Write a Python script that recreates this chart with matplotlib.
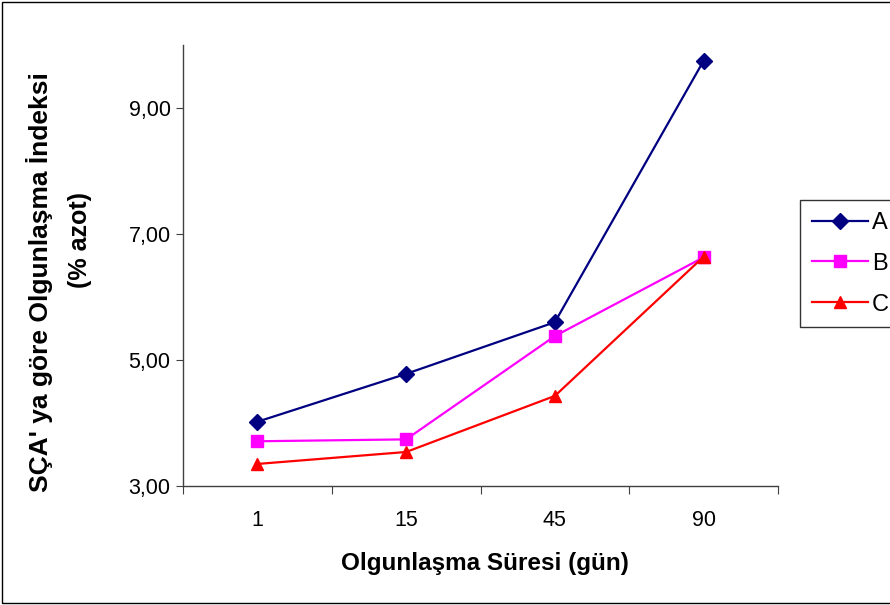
import matplotlib.pyplot as plt
from matplotlib.patches import Rectangle
from matplotlib.ticker import FixedLocator, FuncFormatter

plt.rcParams["font.family"] = ["Liberation Sans", "DejaVu Sans"]

days = ["1", "15", "45", "90"]
series_a = [4.02, 4.78, 5.60, 9.75]
series_b = [3.71, 3.74, 5.38, 6.63]
series_c = [3.35, 3.54, 4.43, 6.64]

W, H = 890, 605
fig = plt.figure(figsize=(W / 100, H / 100), dpi=100)
ax = fig.add_axes([183 / W, 1 - 486 / H, (778 - 183) / W, (486 - 45) / H])

x = list(range(len(days)))
ax.plot(x, series_a, color="#000080", marker="D", markersize=8, lw=1.6, label="A")
ax.plot(x, series_b, color="#ff00ff", marker="s", markersize=8, lw=1.6, label="B")
ax.plot(x, series_c, color="#ff0000", marker="^", markersize=9, lw=1.6, label="C")

ax.set_xlim(-0.5, len(days) - 0.5)
ax.set_ylim(3, 10)
ax.set_yticks([3, 5, 7, 9])
ax.yaxis.set_major_formatter(FuncFormatter(lambda v, p: f"{v:.2f}".replace(".", ",")))

# category boundaries get the tick marks, labels sit between them
ax.xaxis.set_major_locator(FixedLocator([i - 0.5 for i in range(len(days) + 1)]))
ax.xaxis.set_major_formatter(FuncFormatter(lambda v, p: ""))
ax.xaxis.set_minor_locator(FixedLocator(x))
ax.set_xticklabels(days, minor=True)
ax.tick_params(axis="x", which="major", length=6, direction="out", color="#404040")
ax.tick_params(axis="x", which="minor", length=0, pad=17, labelsize=15.5)
ax.tick_params(axis="y", length=5, direction="out", labelsize=15.5, pad=4, color="#404040")

for side in ("top", "right"):
    ax.spines[side].set_visible(False)
for side in ("left", "bottom"):
    ax.spines[side].set_color("#404040")
    ax.spines[side].set_linewidth(1.0)

ax.set_xlabel("Olgunlaşma Süresi (gün)", fontsize=17.5, fontweight="bold")
ax.xaxis.set_label_coords((485 - 183) / 595, (486 - 552) / 441)

# y title: two rotated lines placed by hand
fig.text(40 / W, 1 - 282 / H, "SÇA' ya göre Olgunlaşma İndeksi", rotation=90,
         fontsize=19, fontweight="bold", ha="center", va="center")
fig.text(80 / W, 1 - 240 / H, "(% azot)", rotation=90,
         fontsize=18, fontweight="bold", ha="center", va="center")

leg = fig.legend(loc="upper left", bbox_to_anchor=(800 / W, 1 - 200 / H),
                 fontsize=17, frameon=True, fancybox=False, handlelength=2.4,
                 handletextpad=0.15, labelspacing=0.8, borderpad=0.5,
                 borderaxespad=0)
leg.get_frame().set_edgecolor("black")
leg.get_frame().set_linewidth(1.0)

fig.patches.append(Rectangle((2 / W, 2 / H), 1.2, 1 - 4 / H, transform=fig.transFigure,
                             fill=False, edgecolor="black", lw=1.0))

fig.savefig("out.png", dpi=100)
